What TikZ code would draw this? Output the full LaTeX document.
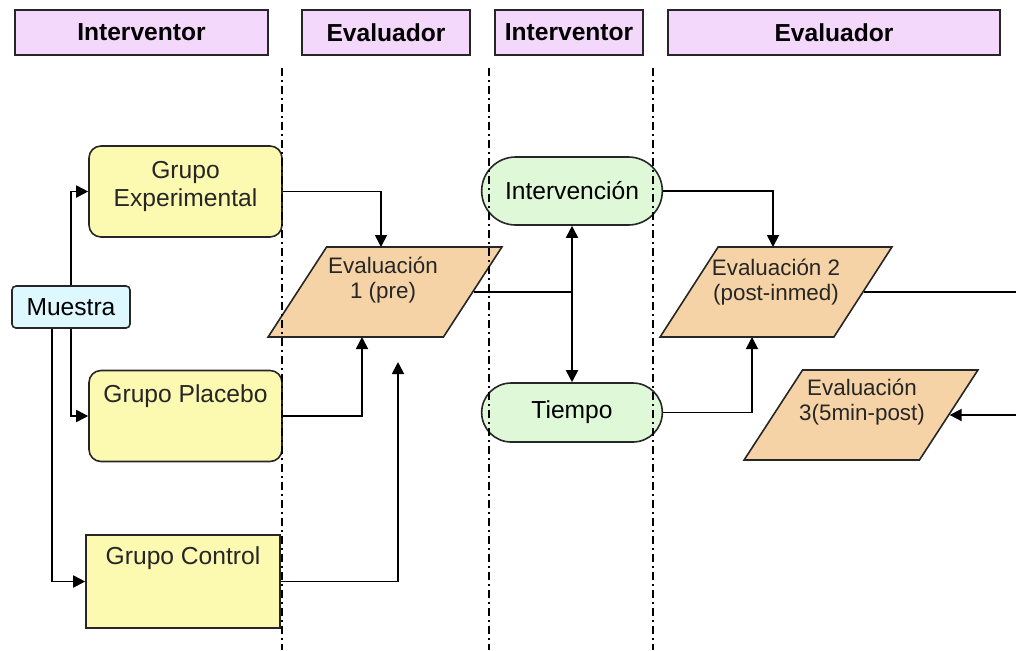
\documentclass[tikz,border=0pt]{standalone}
\usepackage{fontspec}
\setmainfont{Liberation Sans}
\usetikzlibrary{arrows.meta,shapes.geometric,shapes.misc,calc}
\definecolor{headerviolet}{RGB}{244,216,252}
\definecolor{grupoyellow}{RGB}{252,249,176}
\definecolor{evalorange}{RGB}{246,211,166}
\definecolor{pasogreen}{RGB}{222,248,216}
\definecolor{muestracyan}{RGB}{222,248,255}
\tikzset{
  flow header/.style={draw=black!85,line width=1.1pt,fill=headerviolet,minimum height=22.5pt,font=\fontsize{12.3}{14}\selectfont\bfseries},
  flow grupo/.style={draw=black!85,line width=0.8pt,fill=grupoyellow,rounded corners=6pt,minimum width=96.5pt,minimum height=45.5pt},
  flow eval/.style={trapezium,trapezium left angle=63.4,trapezium right angle=116.6,trapezium stretches=true,draw=black!85,line width=0.8pt,fill=evalorange,minimum width=117pt,minimum height=45pt},
  flow paso/.style={rounded rectangle,draw=black!85,line width=0.8pt,fill=pasogreen,minimum width=97pt},
  flow muestra/.style={draw=black!85,line width=0.8pt,fill=muestracyan,rounded corners=2pt,minimum width=59pt,minimum height=21pt},
  flow text/.style={align=center,inner sep=0pt,text=black!85},
  flow small/.style={flow text,font=\fontsize{11.2}{12.5}\selectfont},
  flow arrow/.style={-{Triangle[length=6pt,width=6pt]},line width=0.9pt},
  flow both/.style={{Triangle[length=6pt,width=6pt]}-{Triangle[length=6pt,width=6pt]},line width=0.9pt},
  flow line/.style={line width=0.9pt},
  flow lane/.style={dash pattern=on 4pt off 2pt on 1pt off 2pt,line width=0.6pt}
}

\begin{document}
\begin{tikzpicture}[x=0.5pt,y=-0.5pt,font=\fontsize{12.3}{14}\selectfont]
  \useasboundingbox (0,0) rectangle (1016,650);
  \node[flow header,minimum width=126.5pt] (h1) at (141.5,32.5) {Interventor};
  \node[flow header,minimum width=84pt] (h2) at (386,32.5) {Evaluador};
  \node[flow header,minimum width=74pt] (h3) at (569,32.5) {Interventor};
  \node[flow header,minimum width=166pt] (h4) at (834,32.5) {Evaluador};

  \node[flow muestra] (mu) at (71,307) {Muestra};
  \node[flow grupo] (ge) at (185.5,191.5) {};
  \node[flow text] (ge-t) at (185.5,186) {Grupo\\Experimental};
  \node[flow grupo] (gp) at (185.5,416) {};
  \node[flow text] (gp-t) at (185.5,396) {Grupo Placebo};
  \node[flow grupo,sharp corners,minimum width=97pt,minimum height=46.5pt] (gc) at (183,581.5) {};
  \node[flow text] (gc-t) at (183,558) {Grupo Control};

  \node[flow eval] (e1) at (385,292) {};
  \node[flow small] (e1-t) at (383,280.5) {Evaluación\\1 (pre)};
  \node[flow paso,minimum height=34pt] (iv) at (572,191) {Intervención};
  \node[flow paso,minimum height=29.5pt] (ti) at (572,412.5) {Tiempo};
  \node[flow eval,minimum width=116pt] (e2) at (776,292) {};
  \node[flow small] (e2-t) at (776,282.5) {Evaluación 2\\(post-inmed)};
  \node[flow eval] (e3) at (861,415) {};
  \node[flow small] (e3-t) at (862,402.5) {Evaluación\\3(5min-post)};

  \coordinate (c1) at (398,362);
  \coordinate (out2) at (1016,292);
  \coordinate (in3) at (1016,415);

  \draw[flow arrow] (mu.north) |- (ge.west);
  \draw[flow arrow] (mu.south) |- (gp.west);
  \draw[flow arrow] ($(mu.south)+(-19,0)$) |- (gc.west);
  \draw[flow arrow] (ge.east) -| ($(e1.center)+(-4,-45)$);
  \draw[flow arrow] (gp.east) -| ($(e1.center)+(-23,45)$);
  \draw[flow arrow] (gc.east) -| (c1);
  \draw[flow line] (e1.east) -- (e1.east -| iv.south);
  \draw[flow both] (iv.south) -- (ti.north);
  \draw[flow arrow] (iv.east) -| ($(e2.center)+(-3,-45)$);
  \draw[flow arrow] (ti.east) -| ($(e2.center)+(-24,45)$);
  \draw[flow line] (e2.east) -- (out2);
  \draw[flow arrow] (in3) -- (e3.east);

  \foreach \lx in {282,489,653}
    \draw[flow lane] (\lx,68) -- (\lx,650);
\end{tikzpicture}
\end{document}
